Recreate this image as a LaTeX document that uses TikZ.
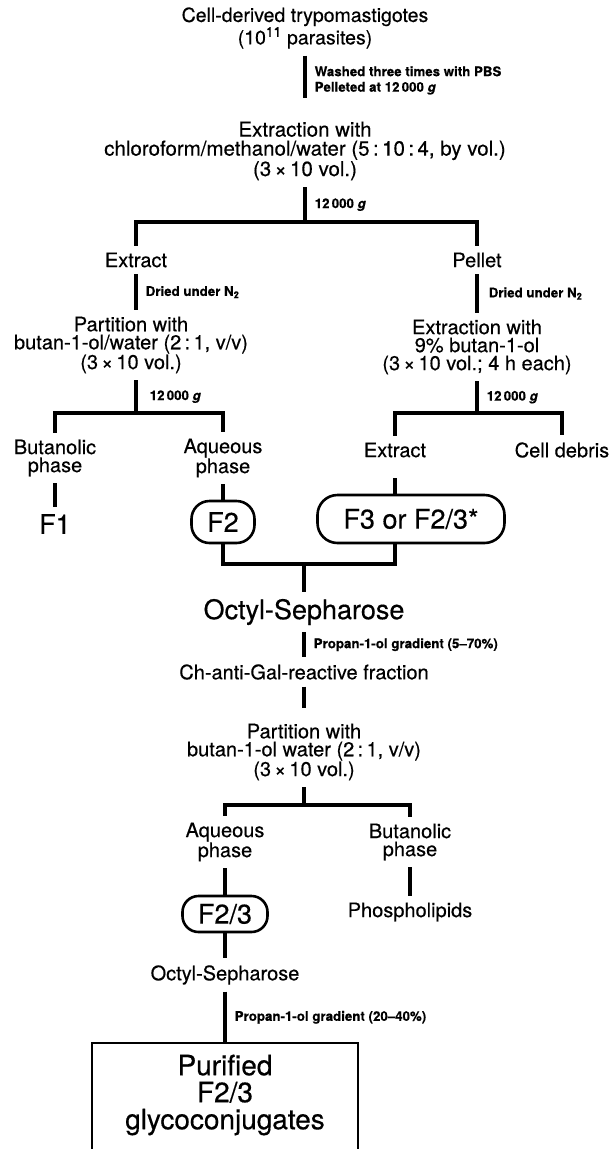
\documentclass[tikz,border=0pt]{standalone}
\usepackage{fontspec}
\setmainfont{TeX Gyre Heros}[FakeBold=0.4]
\usetikzlibrary{positioning,calc}

\begin{document}
\begin{tikzpicture}[x=1pt,y=-1pt,
  stage/.style={align=center,inner sep=0pt,outer sep=7pt,
                font=\fontsize{20}{18}\selectfont},
  heading/.style={stage,font=\fontsize{19.5}{16.5}\selectfont},
  big/.style={stage,font=\fontsize{27}{27}\selectfont},
  fraction/.style={draw,line width=2.6pt,rounded corners=18pt,inner sep=0pt,
                   align=center,font=\fontsize{27}{27}\selectfont},
  note/.style={font=\bfseries\fontsize{13.3}{15.5}\selectfont,inner sep=0pt,
               align=left,anchor=west,xshift=8pt},
  link/.style={line width=3.5pt},
  boxline/.style={line width=2.8pt}
]
\useasboundingbox (0,0) rectangle (610,1149);
\clip (0,0) rectangle (610,1149);

% ===== PARASITES =====
\node[heading] (title) at (305,28) {Cell-derived trypomastigotes\\(10\textsuperscript{11} parasites)};
\node[stage,font=\fontsize{20.5}{19}\selectfont] (extr) at (305,151)
  {Extraction with\\chloroform/methanol/water (5\,:\,10\,:\,4, by vol.)\\(3\,×\,10 vol.)};
\coordinate (j1) at (305,222);

\draw[link,shorten >=17pt] (title) -- (extr)
  node[note,pos=0.42] {Washed three times with PBS\\Pelleted at 12\,000 \textit{g}};
\draw[link] (extr) -- (j1) node[note,midway] {12\,000 \textit{g}};

% ===== FIRST SPLIT =====
\node[stage] (extractL) at (136,260) {Extract};
\node[stage] (pellet) at (477,260) {Pellet};
\draw[link] (extractL) |- (j1) -| (pellet);

\node[stage] (partL) at (131,345) {Partition with\\butan-1-ol/water (2\,:\,1, v/v)\\(3\,×\,10 vol.)};
\node[stage] (extrR) at (477,347) {Extraction with\\9\% butan-1-ol\\(3\,×\,10 vol.; 4 h each)};
\draw[link] (extractL) -- (extractL |- partL.north) node[note,midway] {Dried under N\textsubscript{2}};
\draw[link] (pellet) -- (extrR) node[note,midway,xshift=2pt] {Dried under N\textsubscript{2}};

\coordinate (j2L) at (136,413);
\coordinate (j2R) at (477,413);
\draw[link] (partL.south -| j2L) -- (j2L) node[note,midway,xshift=4pt] {12\,000 \textit{g}};
\draw[link] (extrR) -- (j2R) node[note,midway] {12\,000 \textit{g}};

% ===== PHASES =====
\node[stage] (butL) at (55,458) {Butanolic\\phase};
\node[stage] (aqL) at (223,458) {Aqueous\\phase};
\node[stage] (extR2) at (395,450) {Extract};
\node[stage] (debris) at (562,450) {Cell debris};
\draw[link] (butL) |- (j2L) -| (aqL);
\draw[link] (extR2) |- (j2R) -| (debris);

\node[big] (f1) at (55,524) {F1};
\node[fraction,minimum width=63,minimum height=42] (f2) at (223,522) {F2};
\node[fraction,minimum width=187,minimum height=48,rounded corners=20pt] (f3) at (411,519) {F3 or F2/3*};

\foreach \a/\b in {butL/f1,aqL/f2} {
  \draw[link] (\a) -- (\b);
}
\draw[link,shorten <=14pt] (extR2) -- (extR2 |- f3.north);

% ===== OCTYL-SEPHAROSE =====
\coordinate (j3) at (304,564);
\draw[link] (f2) |- (j3) -| (extR2 |- f3.south);

\node[big] (octyl1) at (304,612) {Octyl-Sepharose};
\node[stage] (chfrac) at (304,672) {Ch-anti-Gal-reactive fraction};
\draw[link] (j3) -- (octyl1);
\draw[link] (octyl1) -- (chfrac) node[note,midway] {Propan-1-ol gradient (5--70\%)};

\node[stage] (partM) at (304,752) {Partition with\\butan-1-ol water (2\,:\,1, v/v)\\(3\,×\,10 vol.)};
\draw[link,shorten >=9pt] (chfrac) -- (partM);

% ===== SECOND SPLIT =====
\coordinate (j4) at (304,805);
\draw[link] (partM) -- (j4);
\node[stage] (aqM) at (225,842) {Aqueous\\phase};
\node[stage] (butM) at (410,842) {Butanolic\\phase};
\draw[link] (aqM) |- (j4) -| (butM);

\node[fraction,minimum width=85,minimum height=36,rounded corners=16pt] (f23) at (225,914) {F2/3};
\node[stage] (phos) at (410,912) {Phospholipids};
\node[stage] (octyl2) at (225,975) {Octyl-Sepharose};

\foreach \a/\b in {aqM/f23,butM/phos,f23/octyl2} {
  \draw[link] (\a) -- (\b);
}

% ===== PRODUCT =====
\node[big,outer sep=0pt,minimum width=266,minimum height=104,font=\fontsize{28}{27}\selectfont] (final) at (225,1095)
  {Purified\\F2/3\\glycoconjugates};
\draw[boxline] ([yshift=-30pt]final.south west) -- (final.north west)
  -- (final.north east) -- ([yshift=-30pt]final.south east);
\draw[link] (octyl2) -- (final) node[note,midway] {Propan-1-ol gradient (20--40\%)};

\end{tikzpicture}
\end{document}
